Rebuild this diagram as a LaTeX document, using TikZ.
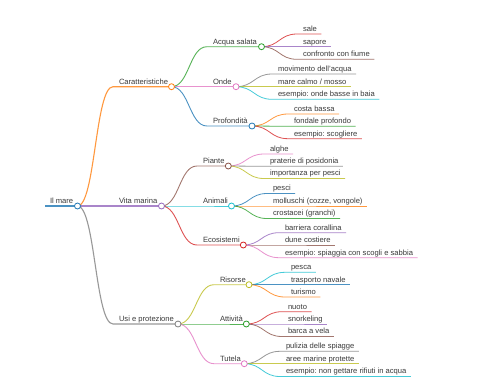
\documentclass[tikz,border=0pt]{standalone}
\usepackage{fontspec}
\setmainfont{Liberation Sans}
\usetikzlibrary{calc}
\frenchspacing
\pgfdeclarelayer{bg}
\pgfsetlayers{bg,main}
\definecolor{cBlue}{HTML}{1F77B4}
\definecolor{cOrange}{HTML}{FF7F0E}
\definecolor{cGreen}{HTML}{2CA02C}
\definecolor{cRed}{HTML}{D62728}
\definecolor{cPurple}{HTML}{9467BD}
\definecolor{cBrown}{HTML}{8C564B}
\definecolor{cPink}{HTML}{E377C2}
\definecolor{cGray}{HTML}{7F7F7F}
\definecolor{cOlive}{HTML}{BCBD22}
\definecolor{cCyan}{HTML}{17BECF}
\definecolor{txt}{HTML}{3A3A3A}
\tikzset{
  lbl/.style={anchor=base west, inner sep=0pt, outer sep=0pt, text=txt, font=\fontsize{7.6}{9}\selectfont\frenchspacing},
  dot/.style={circle, draw=#1, fill=white, line width=0.8pt, minimum size=6pt, inner sep=0pt},
  mmline/.style={line width=#1, draw opacity=0.8},
}
% inner node: name, parent, colour, start x, y, circle x, text, line width
\newcommand\mmInner[8]{%
  \coordinate (#1s) at (#4,#5);
  \coordinate (#1c) at (#6,#5);
  \coordinate (#1m) at ($(#2c)!0.5!(#1s)$);
  \begin{pgfonlayer}{bg}
    \draw[#3, mmline=#8] (#2c) .. controls (#1m |- #2c) and (#1m |- #1s) .. (#1s) -- (#1c);
  \end{pgfonlayer}
  \node[lbl] (#1) at ($(#1s)+(6,-2.6)$) {#7};
  \node[dot=#3] (#1k) at (#1c) {};
}
% leaf: name, parent, colour, start x, y, text
\newcommand\mmLeaf[6]{%
  \coordinate (#1s) at (#4,#5);
  \coordinate (#1m) at ($(#2c)!0.5!(#1s)$);
  \node[lbl] (#1) at ($(#1s)+(6,-2.6)$) {#6};
  \begin{pgfonlayer}{bg}
    \draw[#3, mmline=0.8pt] (#2c) .. controls (#1m |- #2c) and (#1m |- #1s) .. (#1s) -- ($(#1.east |- #1s)+(4.5,0)$);
  \end{pgfonlayer}
}
\begin{document}
\begin{tikzpicture}[x=1pt,y=-1pt]
\useasboundingbox (0,0) rectangle (480,384);
\begin{pgfonlayer}{bg}
  \fill[white] (0,0) rectangle (480,384);
\end{pgfonlayer}
% root
\coordinate (roots) at (45,206);
\coordinate (rootc) at (77.5,206);
\begin{pgfonlayer}{bg}
  \draw[cBlue, mmline=1.7pt] (roots) -- (rootc);
\end{pgfonlayer}
\node[lbl] (root) at (50,203.4) {Il mare};
\node[dot=cBlue] (rootk) at (rootc) {};
% level 1
\mmInner{car}{root}{cOrange}{113}{86.7}{171.5}{Caratteristiche}{1.1pt}
\mmInner{vit}{root}{cPurple}{113}{206}{161.5}{Vita marina}{1.1pt}
\mmInner{usi}{root}{cGray}{113}{324}{178}{Usi e protezione}{1.1pt}
% level 2
\mmInner{acq}{car}{cGreen}{207}{46.7}{261.5}{Acqua salata}{0.9pt}
\mmInner{ond}{car}{cPink}{207}{86.7}{236}{Onde}{0.9pt}
\mmInner{pro}{car}{cBlue}{207}{126}{252}{Profondità}{0.9pt}
\mmInner{pia}{vit}{cBrown}{197}{166}{228.3}{Piante}{0.9pt}
\mmInner{ani}{vit}{cCyan}{197}{206}{231.5}{Animali}{0.9pt}
\mmInner{eco}{vit}{cRed}{197}{245}{243.3}{Ecosistemi}{0.9pt}
\mmInner{ris}{usi}{cOlive}{214}{284.7}{249}{Risorse}{0.9pt}
\mmInner{att}{usi}{cGreen}{214}{324}{246.3}{Attività}{0.9pt}
\mmInner{tut}{usi}{cPink}{214}{363.7}{244.3}{Tutela}{0.9pt}
% leaves
\mmLeaf{sal}{acq}{cRed}{297}{34}{sale}
\mmLeaf{sap}{acq}{cPurple}{297}{46.7}{sapore}
\mmLeaf{con}{acq}{cBrown}{297}{59.3}{confronto con fiume}
\mmLeaf{mov}{ond}{cGray}{272}{74}{movimento dell'acqua}
\mmLeaf{mar}{ond}{cOlive}{272}{86.7}{mare calmo / mosso}
\mmLeaf{eso}{ond}{cCyan}{272}{99.3}{esempio: onde basse in baia}
\mmLeaf{cos}{pro}{cOrange}{288}{114}{costa bassa}
\mmLeaf{fon}{pro}{cGreen}{288}{126.3}{fondale profondo}
\mmLeaf{sco}{pro}{cRed}{288}{138.7}{esempio: scogliere}
\mmLeaf{alg}{pia}{cPink}{264}{154}{alghe}
\mmLeaf{pra}{pia}{cGray}{264}{166.3}{praterie di posidonia}
\mmLeaf{imp}{pia}{cOlive}{264}{178.5}{importanza per pesci}
\mmLeaf{pes}{ani}{cBlue}{267}{193.5}{pesci}
\mmLeaf{mol}{ani}{cOrange}{267}{206}{molluschi (cozze, vongole)}
\mmLeaf{cro}{ani}{cGreen}{267}{218.5}{crostacei (granchi)}
\mmLeaf{bar}{eco}{cPurple}{279}{232.7}{barriera corallina}
\mmLeaf{dun}{eco}{cBrown}{279}{245}{dune costiere}
\mmLeaf{esp}{eco}{cPink}{279}{257.7}{esempio: spiaggia con scogli e sabbia}
\mmLeaf{pea}{ris}{cCyan}{285}{272.3}{pesca}
\mmLeaf{tra}{ris}{cBlue}{285}{284.7}{trasporto navale}
\mmLeaf{tur}{ris}{cOrange}{285}{297}{turismo}
\mmLeaf{nuo}{att}{cRed}{282}{311.7}{nuoto}
\mmLeaf{sno}{att}{cPurple}{282}{324}{snorkeling}
\mmLeaf{brc}{att}{cBrown}{282}{336.5}{barca a vela}
\mmLeaf{pul}{tut}{cGray}{280}{351.3}{pulizia delle spiagge}
\mmLeaf{are}{tut}{cOlive}{280}{363.7}{aree marine protette}
\mmLeaf{esn}{tut}{cCyan}{280}{376.5}{esempio: non gettare rifiuti in acqua}
\end{tikzpicture}
\end{document}
